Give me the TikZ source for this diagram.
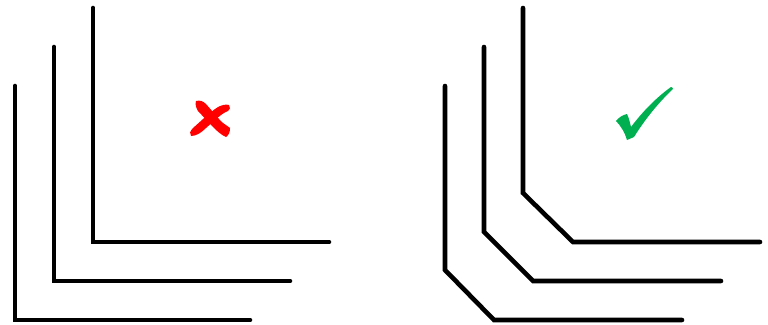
\documentclass[tikz,border=0pt]{standalone}
\definecolor{xred}{RGB}{255,0,0}
\definecolor{okgreen}{RGB}{0,176,80}
\tikzset{
  bar/.style={line width=4.6pt, black, line cap=round, line join=miter},
}
\begin{document}
\begin{tikzpicture}[x=1pt,y=-1pt]
\useasboundingbox (0,0) rectangle (768,324);
% left: sharp corners
\draw[bar] (15,86) -- (15,320) -- (250,320);
\draw[bar] (54,47) -- (54,281) -- (290,281);
\draw[bar] (93,8) -- (93,242) -- (329,242);
% right: chamfered corners
\draw[bar] (445,86) -- (445,270) -- (494,320) -- (682,320);
\draw[bar] (484,47) -- (484,232) -- (533,281) -- (721,281);
\draw[bar] (523,8) -- (523,193) -- (573,242) -- (760,242);
% red cross
\fill[xred] (196,101) .. controls (200,100) and (203,101) .. (206,104)
  -- (219,119) .. controls (223,124) and (228,126) .. (230,128)
  .. controls (230,132) and (229,135) .. (226,137)
  .. controls (221,135) and (216,130) .. (212,126)
  -- (198,111) .. controls (196,108) and (195,104) .. (196,101) -- cycle;
\fill[xred] (229,105) .. controls (231,107) and (230,110) .. (228,111)
  .. controls (222,113) and (214,121) .. (206,128)
  .. controls (201,133) and (196,136) .. (191,136)
  .. controls (189,134) and (190,131) .. (193,128)
  .. controls (200,122) and (210,112) .. (218,107)
  .. controls (222,105) and (226,104) .. (229,105) -- cycle;
% green check
\fill[okgreen] (616,121) .. controls (619,117) and (623,115) .. (627,114)
  .. controls (629,118) and (630,123) .. (631,127)
  .. controls (643,111) and (657,97) .. (671,87)
  .. controls (672,87) and (673,88) .. (673,89)
  .. controls (657,104) and (644,121) .. (634,137)
  .. controls (632,138) and (629,139) .. (627,140)
  .. controls (625,133) and (621,126) .. (616,121) -- cycle;
\end{tikzpicture}
\end{document}
